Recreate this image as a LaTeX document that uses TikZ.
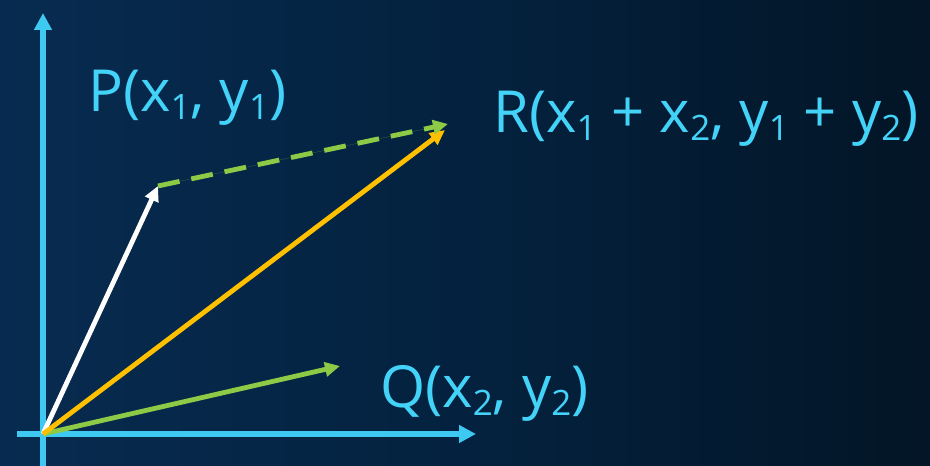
\documentclass[tikz,border=0pt]{standalone}
\usepackage{fontspec}
\setmainfont{Open Sans}
\usetikzlibrary{arrows.meta}
\definecolor{bgL}{HTML}{072B50}
\definecolor{bgM}{HTML}{04223F}
\definecolor{bgR}{HTML}{031526}
\definecolor{axisblue}{HTML}{3EC9F2}
\definecolor{txtblue}{HTML}{44D3F8}
\definecolor{vgreen}{HTML}{8DCB47}
\definecolor{vorange}{HTML}{FFC000}
\newcommand{\lsub}[1]{\raisebox{-8pt}{\fontsize{35}{37}\selectfont #1}}
\tikzset{
  axis/.style={draw=axisblue, line width=5.5pt, -{Triangle[length=17pt,width=17pt]}},
  vec/.style={line width=4.8pt, -{Triangle[length=15pt,width=14pt]}},
  lbl/.style={text=txtblue, font=\fontsize{58}{62}\selectfont, anchor=base west, inner sep=0pt},
}
\begin{document}
\begin{tikzpicture}[x=1pt,y=1pt]
\shade[left color=bgL, right color=bgR, middle color=bgM] (0,0) rectangle (930,466);
\useasboundingbox (0,0) rectangle (930,466);
\coordinate (O) at (43,32);
\coordinate (ybot) at (43,0);
\coordinate (ytop) at (43,453);
\coordinate (xleft) at (17,32);
\coordinate (xright) at (476,32);
\coordinate (P) at (158,280);
\coordinate (Q) at (340,100);
\coordinate (R) at (445,336);
\coordinate (Rd) at (448,342);
\draw[axis] (ybot) -- (ytop);
\draw[axis] (xleft) -- (xright);
\draw[vec, draw=white, fill=white] (O) -- (P);
\draw[vec, draw=vgreen, fill=vgreen] (O) -- (Q);
\draw[vec, draw=vorange, fill=vorange] (O) -- (R);
\draw[vec, draw=vgreen, fill=vgreen, dash pattern=on 22pt off 12pt] (P) -- (Rd);
\node[lbl] (Plbl) at (88,354) {P(x\lsub{1}, y\lsub{1})};
\node[lbl] (Qlbl) at (380,58) {Q(x\lsub{2}, y\lsub{2})};
\node[lbl] (Rlbl) at (493,333) {R(x\lsub{1} + x\lsub{2}, y\lsub{1} + y\lsub{2})};
\end{tikzpicture}
\end{document}
